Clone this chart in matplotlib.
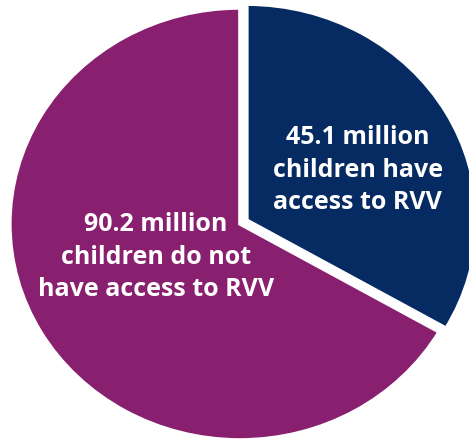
import matplotlib
matplotlib.use("Agg")
import matplotlib.pyplot as plt

# data
labels = ["45.1 million\nchildren have\naccess to RVV",
          "90.2 million\nchildren do not\nhave access to RVV"]
values = [45.1, 90.2]
colors = ["#062a62", "#891f6f"]
explode = [0.035, 0.0]

fig = plt.figure(figsize=(4.69, 4.44), dpi=100)
ax = fig.add_axes([0, 0, 1, 1])

ax.pie(values, colors=colors, startangle=90, counterclock=False,
       explode=explode,
       wedgeprops=dict(edgecolor="white", linewidth=2.5))

# the original pie is slightly wider than tall
ax.set_aspect("auto")
ax.set_xlim(-1.043, 0.996)
ax.set_ylim(-1.019, 1.037)
ax.axis("off")

txt = dict(color="white", fontweight="bold", family="Open Sans", fontsize=18,
           ha="center", va="center", multialignment="center", linespacing=1.38,
           transform=ax.transAxes)
ax.text(0.763, 0.617, labels[0], **txt)
ax.text(0.333, 0.421, labels[1], **txt)

fig.savefig("out.png", dpi=100, facecolor="white")
